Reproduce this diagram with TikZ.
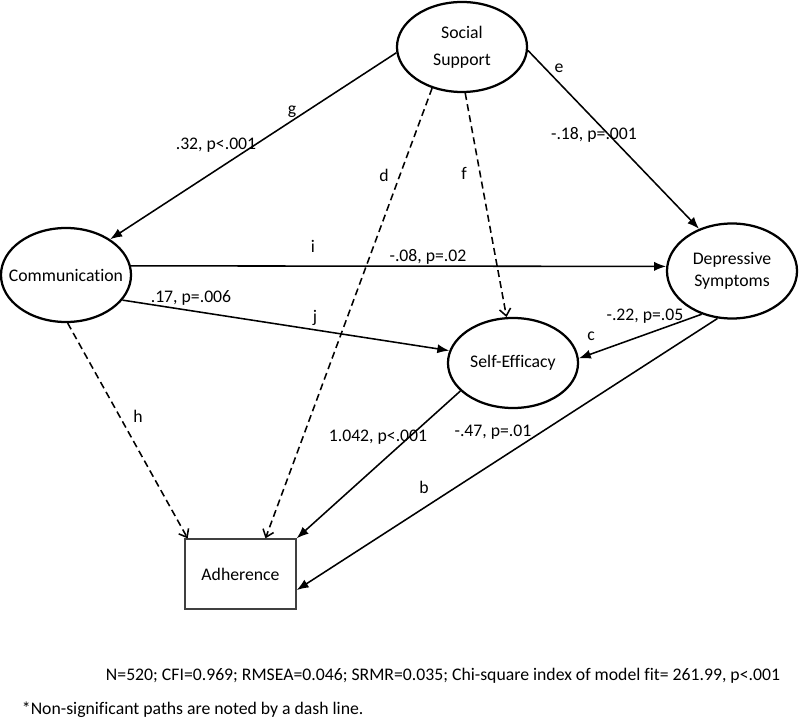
\documentclass[tikz,border=0pt]{standalone}
\usepackage{fontspec}
\setmainfont{Carlito}[Ligatures=NoCommon]
\usepackage{tikz}
\usetikzlibrary{shapes.geometric, arrows.meta}

\begin{document}
\begin{tikzpicture}[x=0.025cm, y=-0.025cm, font=\fontsize{12.6}{15.5}\selectfont]

      \tikzstyle{latent}=[ellipse, draw, line width=1.6pt, inner xsep=-15pt, inner ysep=0pt, align=center, minimum width=3.25cm]
      \tikzstyle{observed}=[rectangle, draw=black!75, line width=0.9pt, minimum width=2.775cm, minimum height=1.75cm]
      \tikzstyle{sig}=[line width=1.1pt, -{Latex[length=8.5pt, width=6.5pt]}]
      \tikzstyle{nonsig}=[line width=1.1pt, dash pattern=on 5pt off 3pt, -{Straight Barb[length=5pt, width=8pt]}]

  \useasboundingbox (0,0) rectangle (800,727);

  \node[latent, minimum height=2.25cm] (ss) at (462,47) {Social\\[4pt]Support};
  \node[latent, minimum height=2.35cm] (comm) at (66,275) {Communication};
  \node[latent, minimum height=2.375cm] (dep) at (732,271) {Depressive\\Symptoms};
  \node[latent, minimum height=2.25cm] (se) at (513,363) {Self-Efficacy};
  \node[observed] (adh) at (240.5,574) {Adherence};

  \draw[sig] (ss.185) -- (comm.39);
  \draw[nonsig] (ss.234) -- (adh.55);
  \draw[nonsig] (ss.274) -- (se.98);
  \draw[sig] (ss.357) -- (dep.128);
  \draw[sig] (comm.8) -- (dep.176);
  \draw[sig] (comm.336) -- (se.169);
  \draw[nonsig] (comm.272) -- (adh.146);
  \draw[sig] (dep.235) -- (se.4);
  \draw[sig] (dep.253) -- (adh.344);
  \draw[sig] (se.208) -- (adh.north east);

  \node (lg) at (292,112) {g};
  \node (vg) at (216,145) {.32, p<.001};
  \node (ld) at (384,175) {d};
  \node (lf) at (464,173) {f};
  \node (le) at (559,68) {e};
  \node (ve) at (594,135) {-.18, p=.001};
  \node (li) at (313,246) {i};
  \node (vi) at (428,257) {-.08, p=.02};
  \node (vj) at (191,298) {.17, p=.006};
  \node (lj) at (315,318) {j};
  \node (lh) at (138,416) {h};
  \node (lc) at (591,336) {c};
  \node (vc) at (645,316) {-.22, p=.05};
  \node (vs) at (378,437) {1.042, p<.001};
  \node (vb) at (493,432) {-.47, p=.01};
  \node (lb) at (424,487) {b};

  \node[anchor=east] (fit) at (785,676) {N=520; CFI=0.969; RMSEA=0.046; SRMR=0.035; Chi-square index of model fit= 261.99, p<.001};
  \node[anchor=west] (note) at (17,710) {*Non-significant paths are noted by a dash line.};

  %\draw[step=50,gray,very thin] (0,0) grid (800,727);

\end{tikzpicture}
\end{document}
